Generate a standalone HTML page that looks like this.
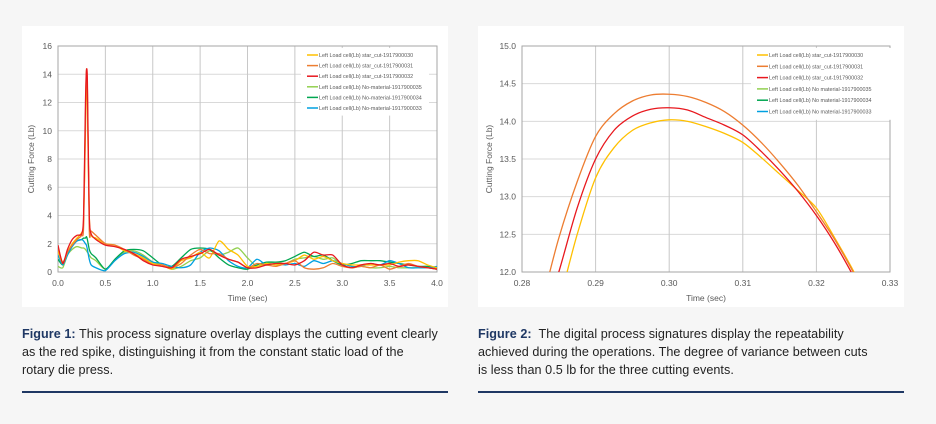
<!DOCTYPE html>
<html><head><meta charset="utf-8">
<style>
body{margin:0;width:936px;height:424px;background:#f6f6f6;position:relative;overflow:hidden;font-family:"Liberation Sans",sans-serif}
.panel{position:absolute;top:26px;width:426px;height:281px;background:#fff}
.cap{position:absolute;top:325px;width:440px;font-family:"Liberation Sans Narrow","Liberation Sans",sans-serif;font-size:12.6px;line-height:18px;color:#222;letter-spacing:0.05px;white-space:nowrap}
.cap b{color:#1f3864}
.rule{position:absolute;top:391px;width:426px;height:1.5px;background:#1f3864}
svg text{font-family:"Liberation Sans",sans-serif}
</style></head><body>
<div class="panel" style="left:22px"></div>
<div class="panel" style="left:478px"></div>
<svg id="svg" width="936" height="424" style="position:absolute;left:0;top:0"></svg>
<div class="cap" style="left:22px"><b>Figure 1:</b> This process signature overlay displays the cutting event clearly<br>as the red spike, distinguishing it from the constant static load of the<br>rotary die press.</div>
<div class="cap" style="left:478px"><b>Figure 2:</b>&nbsp; The digital process signatures display the repeatability<br>achieved during the operations. The degree of variance between cuts<br>is less than 0.5 lb for the three cutting events.</div>
<div class="rule" style="left:22px"></div>
<div class="rule" style="left:478px"></div>
<script>
const leftTimes=[0,.05,.1,.15,.2,.25,.27,.29,.30,.31,.33,.35,.4,.5,.6,.7,.8,.9,1.0,1.1,1.2,1.3,1.4,1.5,1.6,1.7,1.8,1.9,2.0,2.1,2.2,2.3,2.4,2.5,2.6,2.7,2.8,2.9,3.0,3.1,3.2,3.3,3.4,3.5,3.6,3.7,3.8,3.9,4.0];
const yellow30=[1.5,0.6,1.4,2.0,2.4,2.8,3.5,10,14.0,12,4,2.6,2.4,2.0,1.9,1.5,1.3,1.0,0.6,0.5,0.2,0.8,1.0,1.4,1.0,2.2,1.6,1.2,0.4,0.4,0.6,0.5,0.6,0.8,1.2,0.9,1.1,0.8,0.6,0.5,0.5,0.5,0.5,0.5,0.7,0.8,0.8,0.5,0.3];
const orange31=[1.7,0.7,1.4,1.9,2.3,2.6,3.2,11,14.3,13,3,2.9,2.6,2.0,1.9,1.6,1.2,0.9,0.5,0.5,0.3,0.6,1.2,1.6,1.3,1.3,0.9,0.7,0.3,0.6,0.5,0.4,0.6,0.8,0.3,0.2,0.3,0.6,0.4,0.3,0.4,0.3,0.5,0.2,0.4,0.6,0.4,0.3,0.2];
const red32=[1.9,0.6,1.6,2.3,2.6,2.7,4.0,12,14.2,13.5,4,2.7,2.3,1.9,1.8,1.6,1.3,0.8,0.5,0.4,0.3,0.9,1.1,1.3,1.6,1.2,0.9,0.7,0.3,0.3,0.5,0.6,0.6,0.5,0.8,1.4,1.2,1.2,0.5,0.3,0.5,0.6,0.5,0.6,0.4,0.5,0.4,0.3,0.2];
const lgreen33=[0.4,0.3,1.2,1.6,1.8,1.7,1.7,1.6,1.5,1.4,1.2,1.0,0.8,0.2,0.8,1.4,1.5,1.2,0.7,0.5,0.2,0.4,0.8,1.0,1.5,1.2,1.4,1.7,1.0,0.4,0.6,0.7,0.6,0.9,1.0,1.1,0.9,1.0,0.5,0.3,0.4,0.3,0.3,0.4,0.3,0.3,0.3,0.3,0.2];
const green34=[0.9,0.5,1.3,1.9,2.2,2.3,2.4,2.4,2.5,2.3,1.6,1.3,1.0,0.2,0.9,1.5,1.6,1.5,1.0,0.5,0.4,1.0,1.6,1.7,1.6,1.0,0.5,0.3,0.2,0.5,0.7,0.7,0.8,1.1,1.4,1.1,1.2,0.8,0.5,0.6,0.8,0.8,0.8,0.7,0.6,0.5,0.4,0.4,0.3];
const blue35=[1.2,0.5,1.2,1.8,2.2,2.3,2.2,2.0,1.9,1.6,0.9,0.5,0.3,0.1,0.8,1.3,1.4,1.1,0.7,0.6,0.4,0.3,0.5,1.4,1.7,1.5,0.8,0.4,0.3,0.9,0.5,0.6,0.5,0.6,0.4,0.8,0.6,0.8,0.6,0.4,0.4,0.6,0.5,0.8,0.6,0.3,0.3,0.3,0.4];
const leftXTicks=["0.0","0.5","1.0","1.5","2.0","2.5","3.0","3.5","4.0"];
const leftYTicks=["0","2","4","6","8","10","12","14","16"];
const rightTimes=[.283,.285,.2875,.29,.2925,.295,.2975,.30,.3025,.305,.3075,.31,.3125,.315,.3175,.32,.3225,.325,.326];
const orangeZoom=[11.7,12.45,13.2,13.8,14.1,14.27,14.35,14.36,14.33,14.25,14.13,13.95,13.72,13.45,13.15,12.8,12.43,12.0,11.8];
const redZoom=[11.4,12.0,12.85,13.5,13.88,14.07,14.16,14.18,14.15,14.05,13.95,13.82,13.6,13.35,13.07,12.75,12.38,11.95,11.75];
const yellowZoom=[11.1,11.6,12.5,13.25,13.65,13.88,13.98,14.02,14.0,13.93,13.84,13.72,13.52,13.3,13.08,12.85,12.45,12.02,11.8];
const rightXTicks=["0.28","0.29","0.30","0.31","0.32","0.33"];
const rightYTicks=["12.0","12.5","13.0","13.5","14.0","14.5","15.0"];
const leftLegend=["Left Load cell(Lb) star_cut-1917900030","Left Load cell(Lb) star_cut-1917900031","Left Load cell(Lb) star_cut-1917900032","Left Load cell(Lb) No-material-1917900035","Left Load cell(Lb) No-material-1917900034","Left Load cell(Lb) No-material-1917900033"];
const rightLegend=["Left Load cell(Lb) star_cut-1917900030","Left Load cell(Lb) star_cut-1917900031","Left Load cell(Lb) star_cut-1917900032","Left Load cell(Lb) No material-1917900035","Left Load cell(Lb) No material-1917900034","Left Load cell(Lb) No material-1917900033"];
const colors=["#ffc000","#ed7d31","#e8181e","#92d050","#00a650","#00a0e0"];

const NS="http://www.w3.org/2000/svg",svg=document.getElementById('svg');
function mk(tag,attrs,parent){const e=document.createElementNS(NS,tag);for(const k in attrs)e.setAttribute(k,attrs[k]);(parent||svg).appendChild(e);return e;}

function chart(o){
  const sx=v=>o.x0+(v-o.xmin)/(o.xmax-o.xmin)*(o.x1-o.x0);
  const sy=v=>o.y1-(v-o.ymin)/(o.ymax-o.ymin)*(o.y1-o.y0);
  const g=mk('g',{});
  
  
  o.yt.forEach(t=>{const y=sy(parseFloat(t));
    const l=mk('line',{x1:o.x0,x2:o.x1,y1:y,y2:y,stroke:'#d9d9d9','stroke-width':1},g);
    
    const tx=mk('text',{x:o.x0-6,y:y+3,'text-anchor':'end','font-size':8.5,fill:'#595959'},g);tx.textContent=t;
    });
  o.xt.forEach(t=>{const x=sx(parseFloat(t));
    const l=mk('line',{x1:x,x2:x,y1:o.y0,y2:o.y1,stroke:'#c8c8c8','stroke-width':1},g);
    
    const tx=mk('text',{x:x,y:o.y1+14,'text-anchor':'middle','font-size':8.5,fill:'#595959'},g);tx.textContent=t;
    });
  const b=mk('rect',{x:o.x0,y:o.y0,width:o.x1-o.x0,height:o.y1-o.y0,fill:'none',stroke:'#a6a6a6','stroke-width':1},g);
  
  const xt=mk('text',{x:(o.x0+o.x1)/2,y:o.y1+29,'text-anchor':'middle','font-size':8.5,fill:'#595959'},g);xt.textContent='Time (sec)';
  
  const yx=o.x0-o.ytOff,yy=(o.y0+o.y1)/2;
  const yt=mk('text',{x:yx,y:yy,'text-anchor':'middle','font-size':8.5,fill:'#595959',transform:`rotate(-90 ${yx} ${yy})`},g);yt.textContent='Cutting Force (Lb)';
  
  const cid='clip'+o.name;
  const cp=mk('clipPath',{id:cid},g);mk('rect',{x:o.x0,y:o.y0,width:o.x1-o.x0,height:o.y1-o.y0},cp);
  o.series.forEach((s,i)=>{
    const pts=s.v.map((v,j)=>[sx(o.t[j]),sy(v)]);
    let d='M'+pts[0][0]+','+pts[0][1];
    for(let j=0;j<pts.length-1;j++){
      const p0=pts[Math.max(j-1,0)],p1=pts[j],p2=pts[j+1],p3=pts[Math.min(j+2,pts.length-1)],k=o.smooth;
      d+=` C${p1[0]+(p2[0]-p0[0])*k},${p1[1]+(p2[1]-p0[1])*k} ${p2[0]-(p3[0]-p1[0])*k},${p2[1]-(p3[1]-p1[1])*k} ${p2[0]},${p2[1]}`;
    }
    const p=mk('path',{d:d,fill:'none',stroke:s.c,'stroke-width':1.3,'clip-path':`url(#${cid})`,'stroke-linejoin':'round'},g);
    
    
  });
  const lg=mk('g',{},g);
  
  
  mk('rect',{x:o.lx-6,y:o.ly-7,width:o.lw,height:o.labels.length*o.ls+4,fill:'#fff'},lg);
  o.labels.forEach((t,i)=>{const y=o.ly+i*o.ls;
    mk('line',{x1:o.lx,x2:o.lx+11,y1:y,y2:y,stroke:colors[i],'stroke-width':1.5},lg);
    const tx=mk('text',{x:o.lx+12,y:y+2,'font-size':5.4,fill:'#595959'},lg);tx.textContent=t;
    });
}
const names=['star-cut-30','star-cut-31','star-cut-32','no-material-35','no-material-34','no-material-33'];
chart({name:'figure-1-chart',x0:58,x1:437,y0:46,y1:272,xmin:0,xmax:4,ymin:0,ymax:16,xt:leftXTicks,yt:leftYTicks,ytOff:24,t:leftTimes,smooth:0.12,
  series:[lgreen33,green34,blue35,yellow30,orange31,red32].map((v,i)=>({v:v,c:colors[[3,4,5,0,1,2][i]],n:names[[3,4,5,0,1,2][i]]})),
  labels:leftLegend,lx:307,ly:55,ls:10.6,lw:128});
chart({name:'figure-2-chart',x0:522,x1:890,y0:46,y1:272,xmin:0.28,xmax:0.33,ymin:12,ymax:15,xt:rightXTicks,yt:rightYTicks,ytOff:30,t:rightTimes,smooth:0.16,
  series:[{v:yellowZoom,c:colors[0],n:names[0]},{v:orangeZoom,c:colors[1],n:names[1]},{v:redZoom,c:colors[2],n:names[2]}],
  labels:rightLegend,lx:757,ly:55,ls:11.3,lw:140});
</script>
</body></html>
